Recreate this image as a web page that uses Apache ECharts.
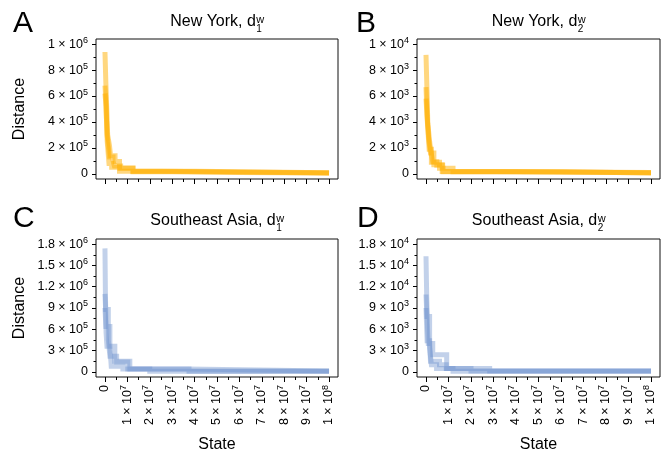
<!DOCTYPE html>
<html><head><meta charset="utf-8">
<script src="https://cdn.jsdelivr.net/npm/echarts@6/dist/echarts.min.js"></script>
<style>html,body{margin:0;padding:0;background:#fff}#c{width:667px;height:452px}</style>
</head><body><div id="c"></div>
<script>
// ---------- data ----------
const stateTicks = [0, 1e7, 2e7, 3e7, 4e7, 5e7, 6e7, 7e7, 8e7, 9e7, 1e8];
const stateMinor = [5e6, 15e6, 25e6, 35e6, 45e6, 55e6, 65e6, 75e6, 85e6, 95e6];

const yTicksA = [0, 2e5, 4e5, 6e5, 8e5, 1e6];
const yMinorA = [1e5, 3e5, 5e5, 7e5, 9e5];
const yTicksB = [0, 2e3, 4e3, 6e3, 8e3, 1e4];
const yMinorB = [1e3, 3e3, 5e3, 7e3, 9e3];
const yTicksC = [0, 3e5, 6e5, 9e5, 1.2e6, 1.5e6, 1.8e6];
const yMinorC = [1.5e5, 4.5e5, 7.5e5, 1.05e6, 1.35e6, 1.65e6];
const yTicksD = [0, 3e3, 6e3, 9e3, 1.2e4, 1.5e4, 1.8e4];
const yMinorD = [1.5e3, 4.5e3, 7.5e3, 1.05e4, 1.35e4, 1.65e4];

const panelLetters = ['A', 'B', 'C', 'D'];
const panelTitles = ['New York, d', 'New York, d', 'Southeast Asia, d', 'Southeast Asia, d'];
const titleSubs = ['1', '2', '1', '2'];
const titleSup = 'w';
const yAxisTitle = 'Distance';
const xAxisTitle = 'State';

// New York, d1w  (state, distance)
const nyD1Run1 = [[0,940000],[4e5,700000],[8e5,500000],[1.2e6,300000],[2.0e6,220000],[2.5e6,140000],[4.5e6,95000],[6.5e6,45000],[12.5e6,15000],[30e6,10000],[60e6,6000],[100e6,6000]];
const nyD1Run2 = [[0,680000],[3e5,600000],[9e5,310000],[1.5e6,210000],[2.0e6,130000],[3.6e6,100000],[4.2e6,60000],[7e6,42000],[12.5e6,20000],[40e6,9000],[100e6,9000]];
const nyD1Run3 = [[0,620000],[5e5,520000],[1.0e6,250000],[1.8e6,80000],[3e6,50000],[6.5e6,20000],[25e6,12000],[70e6,6000],[100e6,6000]];
// New York, d2w
const nyD2Run1 = [[0,9170],[4e5,6700],[8e5,3900],[1.6e6,2500],[2.2e6,1700],[3.0e6,930],[4.8e6,670],[7.4e6,420],[12e6,150],[40e6,90],[100e6,90]];
const nyD2Run2 = [[0,6680],[5e5,4500],[1.2e6,2700],[2.0e6,1600],[3.5e6,700],[7.2e6,180],[30e6,100],[100e6,100]];
const nyD2Run3 = [[0,5800],[6e5,4000],[1.4e6,1900],[2.4e6,900],[6e6,420],[7.6e6,160],[60e6,60],[100e6,60]];
// Southeast Asia, d1w
const seaD1Run1 = [[0,1740000],[2e5,1100000],[5e5,550000],[9e5,360000],[4.4e6,150000],[11.1e6,40000],[37.5e6,10000],[100e6,10000]];
const seaD1Run2 = [[0,1100000],[3e5,880000],[1.5e6,450000],[2.2e6,220000],[5.2e6,140000],[10.2e6,40000],[37e6,12000],[100e6,12000]];
const seaD1Run3 = [[0,900000],[4e5,640000],[2.2e6,360000],[2.8e6,80000],[8e6,40000],[20e6,10000],[100e6,8000]];
// Southeast Asia, d2w
const seaD2Run1 = [[0,16300],[3e5,10900],[7e5,6000],[1.0e6,4000],[3.0e6,2400],[9.2e6,460],[28.3e6,120],[100e6,120]];
const seaD2Run2 = [[0,10900],[4e5,7800],[1.6e6,4000],[2.0e6,1500],[6.0e6,1000],[9e6,460],[20e6,120],[100e6,120]];
const seaD2Run3 = [[0,9000],[5e5,4400],[1.6e6,3400],[2.4e6,1000],[4.7e6,460],[12e6,100],[100e6,100]];

// ---------- layout / style ----------
const FF = '"Liberation Sans", Arial, Helvetica, sans-serif';
const ORANGE = 'rgba(255,176,0,0.5)';
const BLUE = 'rgba(110,145,205,0.42)';

const panels = [
  {grid:{left:96, top:39, width:242, height:140}, yMin:-0.04*1e6, yMax:1.04*1e6, yTicks:yTicksA, yMinor:yMinorA, runs:[nyD1Run1,nyD1Run2,nyD1Run3], color:ORANGE, showX:false, lx:13, ly:23.5, ty:21.5},
  {grid:{left:417, top:39, width:243, height:140}, yMin:-0.04*1e4, yMax:1.04*1e4, yTicks:yTicksB, yMinor:yMinorB, runs:[nyD2Run1,nyD2Run2,nyD2Run3], color:ORANGE, showX:false, lx:356, ly:23.5, ty:21.5},
  {grid:{left:96, top:239, width:242, height:138}, yMin:-0.04*1.8e6, yMax:1.04*1.8e6, yTicks:yTicksC, yMinor:yMinorC, runs:[seaD1Run1,seaD1Run2,seaD1Run3], color:BLUE, showX:true, lx:13, ly:218.5, ty:220.5},
  {grid:{left:417, top:239, width:243, height:138}, yMin:-0.04*1.8e4, yMax:1.04*1.8e4, yTicks:yTicksD, yMinor:yMinorD, runs:[seaD2Run1,seaD2Run2,seaD2Run3], color:BLUE, showX:true, lx:357, ly:218.5, ty:220.5}
];
const X_MIN = -0.04 * 1e8, X_MAX = 1.04 * 1e8;

function sci(v) {
  if (v === 0) return '{n|0}';
  const e = Math.floor(Math.log10(v) + 1e-9);
  const m = Math.round(v / Math.pow(10, e) * 10) / 10;
  return '{n|' + m + ' \u00d7 10}{s|' + e + '}';
}
const rich = {
  n: {fontSize: 12.5, fontFamily: FF, color: '#000', lineHeight: 17},
  s: {fontSize: 9, fontFamily: FF, color: '#000', lineHeight: 9, verticalAlign: 'top'}
};

const measure = (function () {
  const ctx = document.createElement('canvas').getContext('2d');
  return function (txt, size) { ctx.font = size + 'px ' + FF; return ctx.measureText(txt).width; };
})();

const grids = [], xAxes = [], yAxes = [], series = [], graphics = [];
panels.forEach((p, i) => {
  grids.push(Object.assign({show: true, borderColor: '#111', borderWidth: 1, backgroundColor: 'transparent'}, p.grid));
});
const hiddenLine = {show: false, onZero: false};
panels.forEach((p, i) => {
  xAxes.push({
    type: 'value', gridIndex: i, min: X_MIN, max: X_MAX, position: 'bottom',
    axisLine: hiddenLine, splitLine: {show: false},
    axisTick: {show: true, length: 5, customValues: stateTicks, lineStyle: {color: '#000', width: 1}},
    axisLabel: p.showX ? {show: true, rotate: 90, margin: 8, customValues: stateTicks, formatter: sci, rich: rich} : {show: false}
  });
  yAxes.push({
    type: 'value', gridIndex: i, min: p.yMin, max: p.yMax, position: 'left',
    axisLine: hiddenLine, splitLine: {show: false},
    axisTick: {show: true, length: 4, customValues: p.yTicks, lineStyle: {color: '#000', width: 1}},
    axisLabel: {show: true, margin: 8, customValues: p.yTicks, formatter: sci, rich: rich}
  });
});
panels.forEach((p, i) => {
  xAxes.push({
    type: 'value', gridIndex: i, min: X_MIN, max: X_MAX, position: 'bottom',
    axisLine: hiddenLine, splitLine: {show: false},
    axisTick: {show: true, length: 3, customValues: stateMinor, lineStyle: {color: '#000', width: 1}},
    axisLabel: {show: false}
  });
  yAxes.push({
    type: 'value', gridIndex: i, min: p.yMin, max: p.yMax, position: 'left',
    axisLine: hiddenLine, splitLine: {show: false},
    axisTick: {show: true, length: 2.5, customValues: p.yMinor, lineStyle: {color: '#000', width: 1}},
    axisLabel: {show: false}
  });
});
panels.forEach((p, i) => {
  p.runs.forEach(run => {
    series.push({
      type: 'line', xAxisIndex: i, yAxisIndex: i, data: run, step: 'end',
      showSymbol: false, symbol: 'none', silent: true,
      lineStyle: {color: p.color, width: 5, join: 'miter'}
    });
  });
  graphics.push({type: 'text', x: p.lx, y: p.ly, style: {text: panelLetters[i], fontSize: 30, fontFamily: FF, fill: '#000', textAlign: 'left', textVerticalAlign: 'middle'}});
  const main = panelTitles[i];
  const wMain = measure(main, 16);
  const wScript = Math.max(measure(titleSubs[i], 10), measure(titleSup, 11));
  const cx = p.grid.left + p.grid.width / 2;
  const x0 = cx - (wMain + wScript) / 2;
  graphics.push({type: 'text', x: x0, y: p.ty, style: {text: main, fontSize: 16, fontFamily: FF, fill: '#000', textAlign: 'left', textVerticalAlign: 'middle'}});
  graphics.push({type: 'text', x: x0 + wMain + 0.5, y: p.ty - 2, style: {text: titleSup, fontSize: 11, fontFamily: FF, fill: '#000', textAlign: 'left', textVerticalAlign: 'middle'}});
  graphics.push({type: 'text', x: x0 + wMain + 0.5, y: p.ty + 7.3, style: {text: titleSubs[i], fontSize: 10, fontFamily: FF, fill: '#000', textAlign: 'left', textVerticalAlign: 'middle'}});
  if (i % 2 === 0) {
    graphics.push({type: 'text', x: 20, y: p.grid.top + p.grid.height / 2, rotation: Math.PI / 2, style: {text: yAxisTitle, fontSize: 16, fontFamily: FF, fill: '#000', textAlign: 'center', textVerticalAlign: 'middle'}});
  }
  if (p.showX) {
    graphics.push({type: 'text', x: cx, y: 444.5, style: {text: xAxisTitle, fontSize: 16, fontFamily: FF, fill: '#000', textAlign: 'center', textVerticalAlign: 'middle'}});
  }
});

const chart = echarts.init(document.getElementById('c'), null, {renderer: 'canvas'});
chart.setOption({
  animation: false,
  backgroundColor: '#fff',
  textStyle: {fontFamily: FF},
  grid: grids, xAxis: xAxes, yAxis: yAxes, series: series, graphic: graphics
});
</script></body></html>
